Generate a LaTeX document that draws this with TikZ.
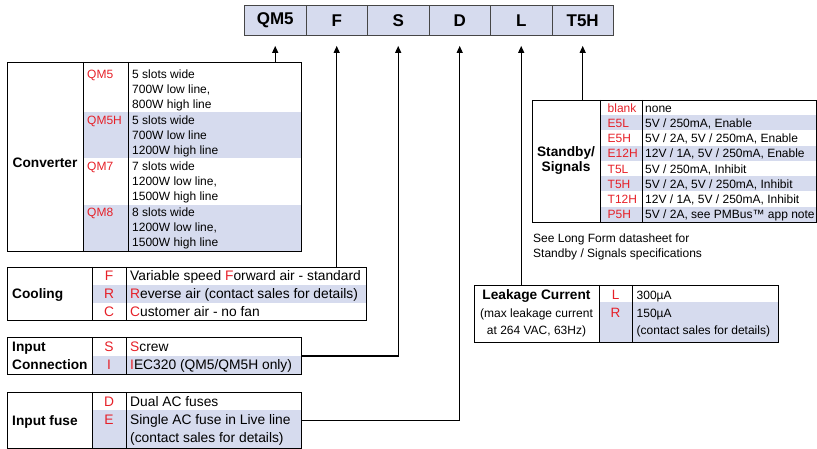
\documentclass[tikz,border=0pt]{standalone}
\usepackage{fontspec}
\setmainfont{Liberation Sans}
\usetikzlibrary{arrows.meta,calc}
\definecolor{lavshade}{RGB}{214,219,238}
\definecolor{codered}{RGB}{230,32,40}
\definecolor{boxline}{RGB}{70,70,70}
\begin{document}
\begin{tikzpicture}[x=1pt,y=-1pt,
 txt/.style={inner sep=0pt, anchor=west, text height=8.6pt, text depth=0pt, font=\fontsize{12}{14}\selectfont},
 txtc/.style={txt, anchor=center},
 big/.style={inner sep=0pt, anchor=west, text height=9.9pt, text depth=0pt, font=\fontsize{13.8}{16}\selectfont},
 bigc/.style={big, anchor=center},
 lbl/.style={inner sep=0pt, text height=9.9pt, text depth=0pt, font=\fontsize{13.7}{16}\selectfont\bfseries},
 code/.style={text=codered},
 tbl/.style={draw=black, line width=1pt, inner sep=0pt, anchor=north west},
 topbox/.style={draw=boxline, fill=lavshade, line width=0.9pt, minimum width=61.5pt, minimum height=30pt, inner sep=0pt, anchor=north west, font=\fontsize{17}{20}\selectfont\bfseries},
 conn/.style={line width=1.2pt, -{Triangle[length=7pt,width=6pt]}},
 divider/.style={line width=1pt},
 band/.style={fill=lavshade},
]
\useasboundingbox (0,0) rectangle (817,449);

% ---- top code boxes
\node[topbox] (qm5) at (244,5) {QM5};
\node[topbox] (f) at (305.5,5) {F};
\node[topbox] (s) at (367,5) {S};
\node[topbox] (d) at (428.5,5) {D};
\node[topbox] (l) at (490,5) {L};
\node[topbox] (t5h) at (551.5,5) {T5H};

% ---- Converter
\path[band] (83,112) rectangle (301,158);
\path[band] (83,205) rectangle (301,251);
\node[tbl, minimum width=294pt, minimum height=189pt] (conv) at (7,62) {};
\draw[divider] (83,62) -- (83,251) (128,62) -- (128,251);
\node[lbl] (convl) at (45,163) {Converter};
\foreach \r/\y/\cd/\a/\b/\c in {0/74/QM5/{5 slots wide}/{700W low line,}/{800W high line},
  1/120/QM5H/{5 slots wide}/{700W low line}/{1200W high line},
  2/166/QM7/{7 slots wide}/{1200W low line,}/{1500W high line},
  3/212/QM8/{8 slots wide}/{1200W low line,}/{1500W high line}}{
  \node[txt,code] (cvc\r) at (87,\y) {\cd};
  \node[txt] (cva\r) at (132,\y) {\a};
  \node[txt] (cvb\r) at (132,\y+15) {\b};
  \node[txt] (cvd\r) at (132,\y+30) {\c};
}

% ---- Cooling
\path[band] (92,285) rectangle (366,303);
\node[tbl, minimum width=359pt, minimum height=53pt] (cool) at (7,267) {};
\draw[divider] (92,267) -- (92,320) (126,267) -- (126,320);
\node[lbl, anchor=west] (cooll) at (12,294) {Cooling};
\node[bigc,code] (cof) at (109,276) {F};
\node[bigc,code] (cor) at (109,294) {R};
\node[bigc,code] (coc) at (109,311.5) {C};
\node[big] (cofv) at (130,276) {Variable speed \textcolor{codered}{F}orward air - standard};
\node[big] (corv) at (130,294) {\textcolor{codered}{R}everse air (contact sales for details)};
\node[big] (cocv) at (130,311.5) {\textcolor{codered}{C}ustomer air - no fan};

% ---- Input connection
\path[band] (92,356) rectangle (301,374);
\node[tbl, minimum width=294pt, minimum height=37pt] (inconn) at (7,337) {};
\draw[divider] (92,337) -- (92,374) (126,337) -- (126,374);
\node[lbl, anchor=west] (icl1) at (12,347) {Input};
\node[lbl, anchor=west] (icl2) at (12,364.5) {Connection};
\node[bigc,code] (ics) at (109,347) {S};
\node[bigc,code] (ici) at (109,365) {I};
\node[big] (icsv) at (130,347) {\textcolor{codered}{S}crew};
\node[big] (iciv) at (130,365) {\textcolor{codered}{I}EC320 (QM5/QM5H only)};

% ---- Input fuse
\path[band] (92,410) rectangle (301,448);
\node[tbl, minimum width=294pt, minimum height=56pt] (fuse) at (7,392) {};
\draw[divider] (92,392) -- (92,448) (126,392) -- (126,448);
\node[lbl, anchor=west] (ifl) at (12,420.5) {Input fuse};
\node[bigc,code] (ifd) at (109,402) {D};
\node[bigc,code] (ife) at (109,420) {E};
\node[big] (ifdv) at (130,402) {Dual AC fuses};
\node[big] (ifev) at (130,420) {Single AC fuse in Live line};
\node[big] (ifcv) at (130,437.5) {(contact sales for details)};

% ---- Leakage current
\path[band] (599,302) rectangle (778,342);
\node[tbl, minimum width=304pt, minimum height=57pt] (leak) at (474,285) {};
\draw[divider] (599,285) -- (599,342) (632,285) -- (632,342);
\node[lbl] (lkl1) at (536.5,295) {Leakage Current};
\node[txtc] (lkl2) at (536.5,313) {(max leakage current};
\node[txtc] (lkl3) at (536.5,330) {at 264 VAC, 63Hz)};
\node[txtc,code,font=\fontsize{13.5}{16}\selectfont] (lkL) at (615.5,295) {L};
\node[txtc,code,font=\fontsize{13.5}{16}\selectfont] (lkR) at (615.5,313) {R};
\node[txt] (lkLv) at (636.5,295) {300µA};
\node[txt] (lkRv) at (636.5,313) {150µA};
\node[txt] (lkcv) at (636.5,330) {(contact sales for details)};

% ---- Standby / Signals
\foreach \i in {1,3,5,7}{
  \path[band] (600,100+15.25*\i) rectangle (816,100+15.25*\i+15.25);
}
\node[tbl, minimum width=284pt, minimum height=122pt] (stby) at (532,100) {};
\draw[divider] (600,100) -- (600,222) (642,100) -- (642,222);
\node[lbl] (sbl1) at (566,152) {Standby/};
\node[lbl] (sbl2) at (566,167) {Signals};
\foreach \i/\cd/\v in {0/blank/none,
  1/E5L/{5V / 250mA, Enable},
  2/E5H/{5V / 2A, 5V / 250mA, Enable},
  3/E12H/{12V / 1A, 5V / 250mA, Enable},
  4/T5L/{5V / 250mA, Inhibit},
  5/T5H/{5V / 2A, 5V / 250mA, Inhibit},
  6/T12H/{12V / 1A, 5V / 250mA, Inhibit},
  7/P5H/{5V / 2A, see PMBus™ app note}}{
  \node[txt,code] (sbc\i) at (607.5,107.8+15.25*\i) {\cd};
  \node[txt] (sbv\i) at (645,107.8+15.25*\i) {\v};
}
\node[txt] (note1) at (533,238) {See Long Form datasheet for};
\node[txt] (note2) at (533,253) {Standby / Signals specifications};

% ---- connectors
\draw[conn] (conv.north -| qm5.south) -- ($(qm5.south)+(0,10)$);
\draw[conn] (cool.north -| f.south) -- ($(f.south)+(0,10)$);
\draw[conn] (inconn.east) -| ($(s.south)+(0,10)$);
\draw[conn] (fuse.east) -| ($(d.south)+(0,10)$);
\draw[conn] (leak.north -| l.south) -- ($(l.south)+(0,10)$);
\draw[conn] (stby.north -| t5h.south) -- ($(t5h.south)+(0,10)$);
\end{tikzpicture}
\end{document}
